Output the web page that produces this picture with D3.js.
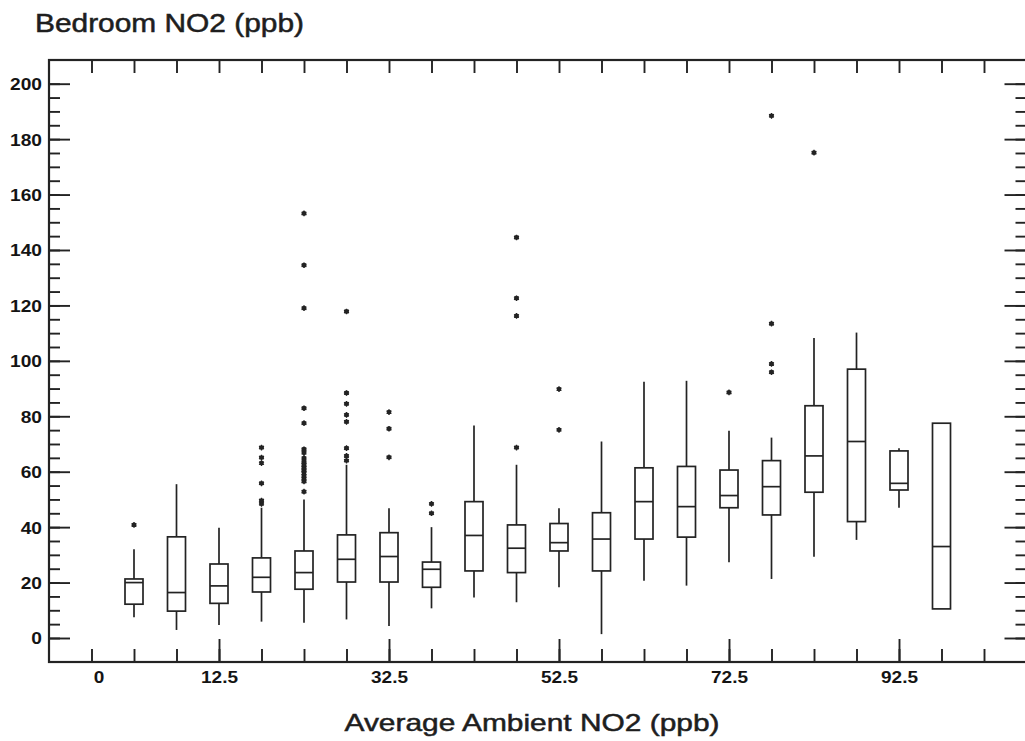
<!DOCTYPE html>
<html>
<head>
<meta charset="utf-8">
<script src="https://cdn.jsdelivr.net/npm/d3@7/dist/d3.min.js"></script>
<style>
  html, body { margin: 0; padding: 0; background: #fff; }
  svg { display: block; font-family: "Liberation Sans", Arial, Helvetica, sans-serif; }
</style>
</head>
<body>
<svg id="chart" width="1025" height="741"></svg>
<script>
// Bedroom NO2 by ambient NO2 bin (ppb)
var binCenters  = [2.5, 7.5, 12.5, 17.5, 22.5, 27.5, 32.5, 37.5, 42.5, 47.5,
                   52.5, 57.5, 62.5, 67.5, 72.5, 77.5, 82.5, 87.5, 92.5, 97.5];
var whiskerLow  = [7.5, 2.9, 4.7, 5.9, 5.5, 6.7, 4.3, 10.7, 14.6, 12.9,
                   18.3, 1.4, 20.7, 18.9, 27.3, 21.3, 29.3, 35.4, 47.0, null];
var q1          = [12.2, 9.7, 12.5, 16.6, 17.6, 20.2, 20.2, 18.3, 24.2, 23.6,
                   31.4, 24.2, 35.7, 36.4, 47.0, 44.4, 52.6, 42.0, 53.4, 10.5];
var median      = [20.0, 16.4, 18.8, 21.9, 23.6, 28.4, 29.4, 24.8, 37.0, 32.4,
                   34.4, 35.7, 49.2, 47.4, 51.4, 54.6, 65.7, 70.9, 55.8, 33.0];
var q3          = [21.3, 36.5, 26.7, 28.9, 31.4, 37.2, 38.0, 27.4, 49.2, 40.8,
                   41.3, 45.2, 61.4, 61.9, 60.6, 64.0, 83.8, 97.0, 67.5, 77.5];
var whiskerHigh = [32.0, 55.5, 39.8, 47.0, 50.0, 62.5, 46.8, 40.0, 76.7, 62.5,
                   46.8, 70.9, 92.5, 92.8, 74.8, 72.3, 108.2, 110.2, 68.5, null];
var outliers = [
  [40.8],
  [],
  [],
  [48.4, 49.6, 55.8, 63.1, 65.1, 68.7],
  [52.8, 56.5, 57.5, 58.5, 59.5, 60.5, 61.5, 62.5, 63.5, 64.9, 66.8, 68.1, 77.5, 82.9, 119.0, 134.5, 153.2],
  [64.0, 65.7, 68.5, 78.0, 80.5, 84.5, 88.4, 117.8],
  [65.2, 75.5, 81.5],
  [45.0, 48.4],
  [],
  [68.7, 116.2, 122.6, 144.5],
  [75.1, 89.8],
  [],
  [],
  [],
  [88.6],
  [95.9, 98.9, 113.4, 188.4],
  [175.1],
  [],
  [],
  []
];

var xLabelValues = [-2.5, 12.5, 32.5, 52.5, 72.5, 92.5];
var xLabelText   = ['0', '12.5', '32.5', '52.5', '72.5', '92.5'];
var xMajorTicks  = [12.5, 32.5, 52.5, 72.5, 92.5];
var yMajorTicks  = [0, 20, 40, 60, 80, 100, 120, 140, 160, 180, 200];

(function () {
  'use strict';

  var ink = '#232323';
  var frame = { left: 49, top: 60, right: 1026.5, bottom: 662 };
  var boxW = 18;

  var svg = d3.select('#chart');

  var x = d3.scaleLinear().domain([-7.5, 107.5]).range([frame.left, frame.right]);
  var y = d3.scaleLinear().domain([-8.66, 208.55]).range([frame.bottom, frame.top]);

  var minorX = d3.range(-2.5, 105, 5);
  var minorY = d3.range(0, 201, 5);

  // stretch text horizontally, the scan's lettering is wider than Arial
  function stretch(sel, k) {
    sel.each(function () {
      var len = this.getComputedTextLength();
      d3.select(this).attr('textLength', len * k).attr('lengthAdjust', 'spacingAndGlyphs');
    });
  }

  function styleAxis(g) {
    g.select('.domain').remove();
    g.selectAll('.tick line').attr('stroke', ink).attr('stroke-width', 1.9);
  }

  // ticks, all pointing inward
  svg.append('g').attr('transform', 'translate(' + frame.left + ',0)')
    .call(d3.axisLeft(y).tickValues(minorY).tickSize(-11).tickFormat(''))
    .call(styleAxis);
  var yLab = svg.append('g').attr('transform', 'translate(' + frame.left + ',0)')
    .call(d3.axisLeft(y).tickValues(yMajorTicks).tickSize(-21).tickPadding(7).tickFormat(d3.format('d')))
    .call(styleAxis);
  yLab.selectAll('text')
    .attr('fill', '#141414').style('font-size', '16.5px').style('font-weight', 'bold')
    .attr('dy', '0.36em')
    .call(stretch, 1.16);

  svg.append('g').attr('transform', 'translate(' + frame.right + ',0)')
    .call(d3.axisRight(y).tickValues(minorY).tickSize(-11).tickFormat(''))
    .call(styleAxis);
  svg.append('g').attr('transform', 'translate(' + frame.right + ',0)')
    .call(d3.axisRight(y).tickValues(yMajorTicks).tickSize(-22).tickFormat(''))
    .call(styleAxis);

  svg.append('g').attr('transform', 'translate(0,' + frame.top + ')')
    .call(d3.axisTop(x).tickValues(minorX).tickSize(-13).tickFormat(''))
    .call(styleAxis);

  svg.append('g').attr('transform', 'translate(0,' + frame.bottom + ')')
    .call(d3.axisBottom(x).tickValues(minorX).tickSize(-13).tickFormat(''))
    .call(styleAxis);
  svg.append('g').attr('transform', 'translate(0,' + frame.bottom + ')')
    .call(d3.axisBottom(x).tickValues(xMajorTicks).tickSize(-23).tickFormat(''))
    .call(styleAxis);
  var xLab = svg.append('g').attr('transform', 'translate(0,' + frame.bottom + ')')
    .call(d3.axisBottom(x).tickValues(xLabelValues).tickSize(0).tickPadding(9)
      .tickFormat(function (d) { return xLabelText[xLabelValues.indexOf(d)]; }))
    .call(styleAxis);
  xLab.selectAll('.tick line').remove();
  xLab.selectAll('text')
    .attr('fill', '#141414').style('font-size', '16.5px').style('font-weight', 'bold')
    .attr('dx', function (d) { return d < 0 ? 7 : 0; })
    .call(stretch, 1.15);

  // frame
  svg.append('rect')
    .attr('x', frame.left).attr('y', frame.top)
    .attr('width', frame.right - frame.left).attr('height', frame.bottom - frame.top)
    .attr('fill', 'none').attr('stroke', ink).attr('stroke-width', 2.2);

  // boxes
  var bins = binCenters.map(function (c, i) {
    return { c: c, lo: whiskerLow[i], q1: q1[i], med: median[i], q3: q3[i], hi: whiskerHigh[i], out: outliers[i] };
  });

  var g = svg.append('g').attr('class', 'boxes');
  var box = g.selectAll('.box').data(bins).enter().append('g').attr('class', 'box');

  box.filter(function (d) { return d.lo != null; }).append('line')
    .attr('x1', function (d) { return x(d.c); }).attr('x2', function (d) { return x(d.c); })
    .attr('y1', function (d) { return y(d.lo); }).attr('y2', function (d) { return y(d.q1); });
  box.filter(function (d) { return d.hi != null; }).append('line')
    .attr('x1', function (d) { return x(d.c); }).attr('x2', function (d) { return x(d.c); })
    .attr('y1', function (d) { return y(d.q3); }).attr('y2', function (d) { return y(d.hi); });

  box.append('rect')
    .attr('x', function (d) { return x(d.c) - boxW / 2; })
    .attr('y', function (d) { return y(d.q3); })
    .attr('width', boxW)
    .attr('height', function (d) { return y(d.q1) - y(d.q3); })
    .attr('fill', '#fff');

  box.append('line')
    .attr('x1', function (d) { return x(d.c) - boxW / 2; })
    .attr('x2', function (d) { return x(d.c) + boxW / 2; })
    .attr('y1', function (d) { return y(d.med); }).attr('y2', function (d) { return y(d.med); });

  box.selectAll('line, rect').attr('stroke', ink).attr('stroke-width', 1.7);

  // outliers drawn as small heavy asterisks
  var star = d3.symbol().type(d3.symbolAsterisk).size(22);
  box.selectAll('.out')
    .data(function (d) { return d.out.map(function (v) { return { c: d.c, v: v }; }); })
    .enter().append('g').attr('class', 'out')
    .attr('transform', function (d) { return 'translate(' + x(d.c) + ',' + y(d.v) + ')'; })
    .each(function () {
      var o = d3.select(this);
      o.append('circle').attr('r', 2.4).attr('fill', ink);
      o.append('path').attr('d', star()).attr('fill', 'none').attr('stroke', ink).attr('stroke-width', 1.3);
    });

  // titles
  svg.append('text')
    .attr('x', 35).attr('y', 32)
    .attr('fill', '#1e1e1e').attr('stroke', '#1e1e1e').attr('stroke-width', 0.5)
    .style('font-size', '25px')
    .attr('textLength', 269).attr('lengthAdjust', 'spacingAndGlyphs')
    .text('Bedroom NO2 (ppb)');

  svg.append('text')
    .attr('x', 532).attr('y', 731).attr('text-anchor', 'middle')
    .attr('fill', '#1e1e1e').attr('stroke', '#1e1e1e').attr('stroke-width', 0.5)
    .style('font-size', '24px')
    .attr('textLength', 375).attr('lengthAdjust', 'spacingAndGlyphs')
    .text('Average Ambient NO2 (ppb)');
})();
</script>
</body>
</html>
